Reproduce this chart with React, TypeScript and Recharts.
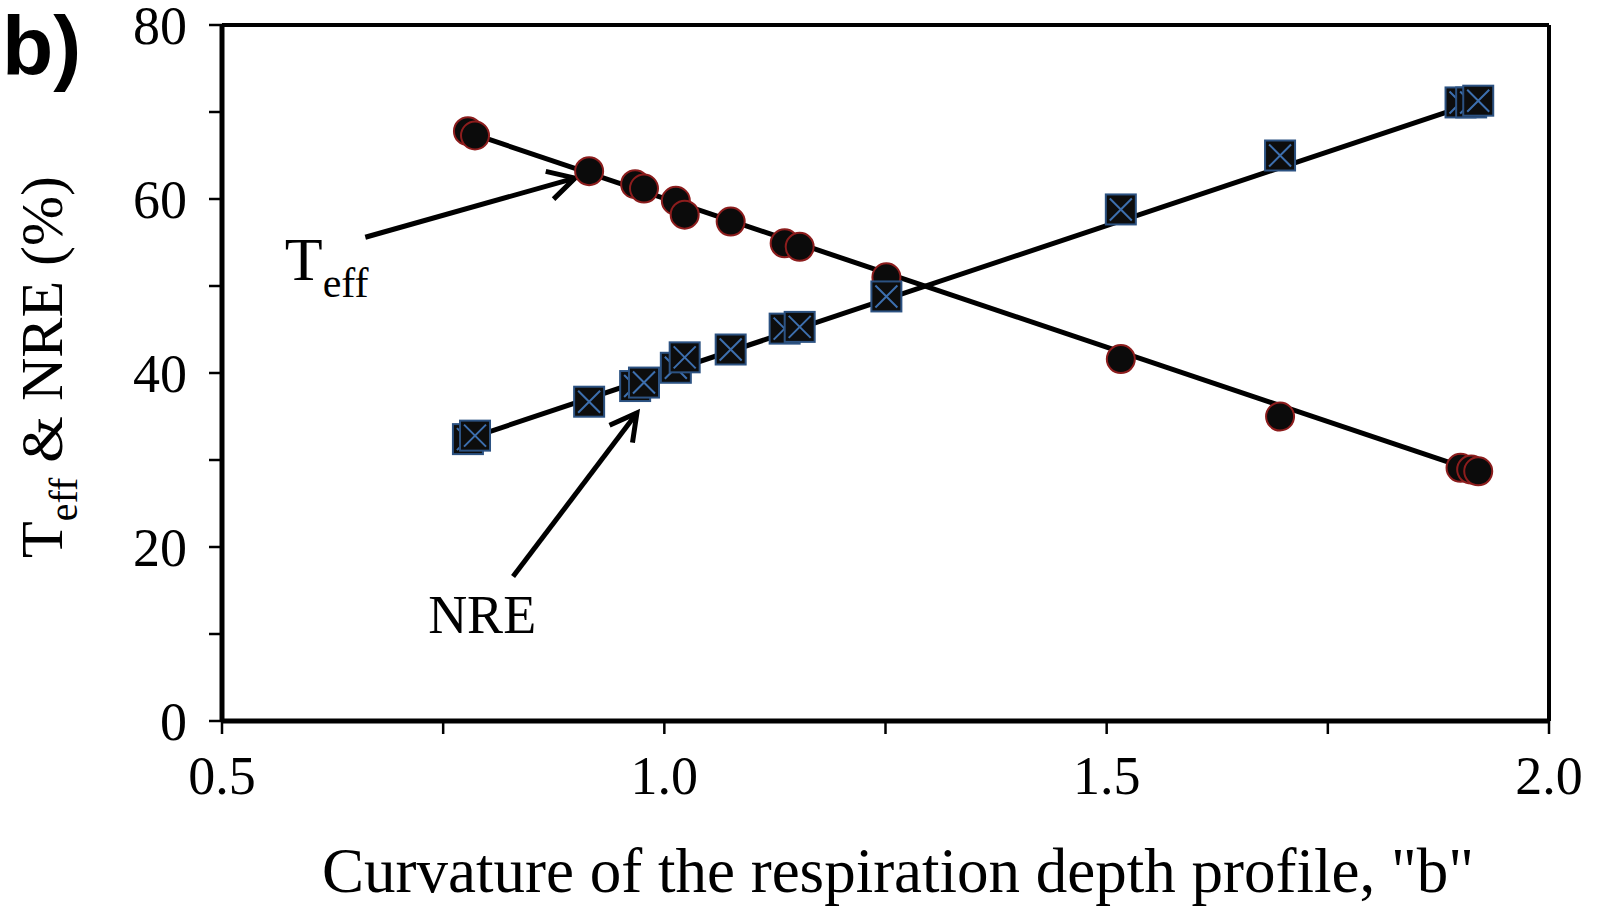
import { ScatterChart, Scatter, XAxis, YAxis, ReferenceLine, ReferenceDot } from 'recharts'

// curvature "b" for each run (same runs for both series)
const bValues = [0.778, 0.786, 0.915, 0.967, 0.977, 1.013, 1.023, 1.075, 1.136, 1.153, 1.251, 1.516, 1.696, 1.9, 1.912, 1.92]
const teffValues = [67.8, 67.3, 63.2, 61.7, 61.2, 59.8, 58.2, 57.4, 54.9, 54.5, 51.0, 41.6, 35.0, 29.1, 28.9, 28.7]
const nreValues = [32.4, 32.8, 36.7, 38.5, 38.9, 40.6, 41.8, 42.7, 45.1, 45.3, 48.8, 58.8, 65.0, 71.1, 71.1, 71.3]

// linear fits drawn through each series
const fitX = [0.78, 1.92]
const teffFit = [67.6, 28.6]
const nreFit = [32.5, 71.2]

const xTicks = [0.5, 0.75, 1.0, 1.25, 1.5, 1.75, 2.0]
const yTicks = [0, 10, 20, 30, 40, 50, 60, 70, 80]

// annotation arrows, in data units: [fromX, fromY, toX, toY]
const teffArrow = [0.662, 55.6, 0.899, 62.4]
const nreArrow = [0.829, 16.6, 0.969, 35.4]
const teffLabelAt = [0.571, 50.7]
const nreLabelAt = [0.733, 10.1]

const teffData = bValues.map((x, i) => ({ x, y: teffValues[i] }))
const nreData = bValues.map((x, i) => ({ x, y: nreValues[i] }))
const teffFitData = fitX.map((x, i) => ({ x, y: teffFit[i] }))
const nreFitData = fitX.map((x, i) => ({ x, y: nreFit[i] }))

const serif = 'Liberation Serif, Times New Roman, serif'
const tickFont = { fontSize: 54, fill: '#000', fontFamily: serif }

const Circle = (p: any) => (
  <circle cx={p.cx} cy={p.cy} r={14} fill="#0b0b0b" stroke="#8c1d1d" strokeWidth={2} />
)

const Square = (p: any) => {
  const s = 15
  return (
    <g>
      <rect x={p.cx - s} y={p.cy - s} width={2 * s} height={2 * s} fill="#0d0d0d" stroke="#2c5282" strokeWidth={2} />
      <path
        d={`M${p.cx - s + 4},${p.cy - s + 4}L${p.cx + s - 4},${p.cy + s - 4}M${p.cx + s - 4},${p.cy - s + 4}L${p.cx - s + 4},${p.cy + s - 4}`}
        stroke="#3d6fae"
        strokeWidth={2}
      />
    </g>
  )
}

const Nothing = () => <g />

const Arrow = (p: any) => {
  const { x1, y1, x2, y2 } = p
  const a = Math.atan2(y2 - y1, x2 - x1)
  const len = 30
  const spread = 0.5
  const h1x = x2 - len * Math.cos(a - spread)
  const h1y = y2 - len * Math.sin(a - spread)
  const h2x = x2 - len * Math.cos(a + spread)
  const h2y = y2 - len * Math.sin(a + spread)
  return (
    <g>
      <line x1={x1} y1={y1} x2={x2} y2={y2} stroke="#000" strokeWidth={5} />
      <path d={`M${h1x},${h1y}L${x2},${y2}L${h2x},${h2y}`} fill="none" stroke="#000" strokeWidth={5} />
    </g>
  )
}

const TeffText = (p: any) => (
  <text x={p.cx} y={p.cy} fontFamily={serif} fill="#000" fontSize={62}>
    T<tspan dy={17} fontSize={42}>eff</tspan>
  </text>
)

const NreText = (p: any) => (
  <text x={p.cx} y={p.cy} fontFamily={serif} fill="#000" fontSize={54}>
    NRE
  </text>
)

const YLabel = () => (
  <text x={62} y={367} transform="rotate(-90, 62, 367)" textAnchor="middle" fontFamily={serif} fontSize={60} fill="#000">
    T<tspan dy={15} fontSize={40}>eff</tspan>
    <tspan dy={-15}> &amp; NRE (%)</tspan>
  </text>
)

const XLabel = () => (
  <text x={898} y={892} textAnchor="middle" fontFamily={serif} fontSize={63} fill="#000">
    Curvature of the respiration depth profile, "b"
  </text>
)

export default function App() {
  return (
    <div style={{ position: 'absolute', left: 0, top: 0, width: 1601, height: 907, background: '#fff' }}>
      <div
        style={{
          position: 'absolute',
          left: 2,
          top: 0,
          fontFamily: 'Liberation Sans, Arial, sans-serif',
          fontWeight: 700,
          fontSize: 84,
          lineHeight: '92px',
          color: '#000',
        }}
      >
        b)
      </div>
      <ScatterChart width={1601} height={907} margin={{ top: 25, right: 52, bottom: 0, left: 0 }}>
        <XAxis
          type="number"
          dataKey="x"
          domain={[0.5, 2.0]}
          ticks={xTicks}
          interval={0}
          tickFormatter={(v: number) => (Math.round(v * 100) % 50 === 0 ? v.toFixed(1) : '')}
          height={186}
          tick={tickFont}
          tickSize={13}
          tickMargin={22}
          axisLine={{ stroke: '#000', strokeWidth: 5 }}
          tickLine={{ stroke: '#000', strokeWidth: 2.5 }}
          label={{ content: XLabel }}
          allowDataOverflow
        />
        <YAxis
          type="number"
          dataKey="y"
          domain={[0, 80]}
          ticks={yTicks}
          interval={0}
          tickFormatter={(v: number) => (v % 20 === 0 ? String(v) : '')}
          width={222}
          tick={tickFont}
          tickSize={13}
          tickMargin={22}
          axisLine={{ stroke: '#000', strokeWidth: 5 }}
          tickLine={{ stroke: '#000', strokeWidth: 2.5 }}
          label={{ content: YLabel }}
          allowDataOverflow
        />
        <ReferenceLine y={80} stroke="#000" strokeWidth={4} />
        <ReferenceLine x={2.0} stroke="#000" strokeWidth={4} />
        <ReferenceLine
          segment={[{ x: teffArrow[0], y: teffArrow[1] }, { x: teffArrow[2], y: teffArrow[3] }]}
          shape={Arrow}
        />
        <ReferenceLine
          segment={[{ x: nreArrow[0], y: nreArrow[1] }, { x: nreArrow[2], y: nreArrow[3] }]}
          shape={Arrow}
        />
        <ReferenceDot x={teffLabelAt[0]} y={teffLabelAt[1]} shape={TeffText} />
        <ReferenceDot x={nreLabelAt[0]} y={nreLabelAt[1]} shape={NreText} />
        <Scatter data={teffFitData} line={{ stroke: '#000', strokeWidth: 5 }} shape={Nothing} isAnimationActive={false} />
        <Scatter data={nreFitData} line={{ stroke: '#000', strokeWidth: 5 }} shape={Nothing} isAnimationActive={false} />
        <Scatter data={teffData} shape={Circle} isAnimationActive={false} />
        <Scatter data={nreData} shape={Square} isAnimationActive={false} />
      </ScatterChart>
    </div>
  )
}
